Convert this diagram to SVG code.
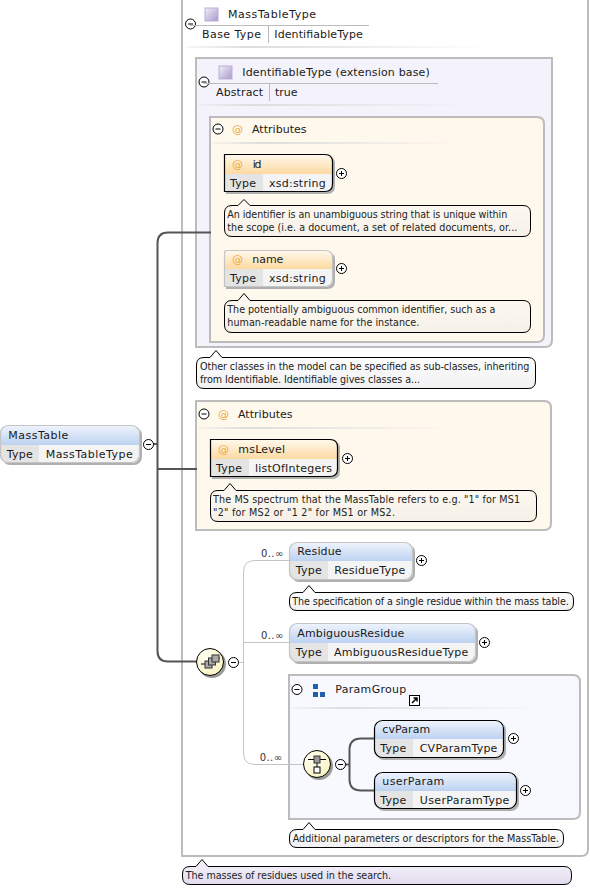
<svg xmlns="http://www.w3.org/2000/svg" width="590" height="889" viewBox="0 0 590 889">
<defs>
<linearGradient id="gBlue" x1="0" y1="0" x2="0" y2="1"><stop offset="0" stop-color="#f1f5fc"/><stop offset="1" stop-color="#bcd2f1"/></linearGradient>
<linearGradient id="gOrange" x1="0" y1="0" x2="0" y2="1"><stop offset="0" stop-color="#fffaf0"/><stop offset="1" stop-color="#fdd9a0"/></linearGradient>
<linearGradient id="gWhite" x1="0" y1="0" x2="0" y2="1"><stop offset="0" stop-color="#ffffff"/><stop offset="1" stop-color="#f1f1f3"/></linearGradient>
<linearGradient id="gCream" x1="0" y1="0" x2="0" y2="1"><stop offset="0" stop-color="#fffaf1"/><stop offset="1" stop-color="#f6f1e8"/></linearGradient>
<linearGradient id="gLav" x1="0" y1="0" x2="0" y2="1"><stop offset="0" stop-color="#f6f3fb"/><stop offset="1" stop-color="#e2dcef"/></linearGradient>
<linearGradient id="gIcon" x1="0" y1="0" x2="1" y2="1"><stop offset="0" stop-color="#f3effa"/><stop offset="1" stop-color="#a798cc"/></linearGradient>
<linearGradient id="gFade" x1="0" y1="0" x2="1" y2="0"><stop offset="0" stop-color="#dddddd" stop-opacity="0.2"/><stop offset="0.2" stop-color="#dddddd"/><stop offset="1" stop-color="#dddddd" stop-opacity="0"/></linearGradient>
<radialGradient id="gYellow" cx="0.35" cy="0.3" r="0.8"><stop offset="0" stop-color="#fffff0"/><stop offset="1" stop-color="#f8f2c0"/></radialGradient>
<g id="minus"><circle r="5" fill="#fff" stroke="#000" stroke-width="1"/><path d="M-2.5 0H2.5" stroke="#000" stroke-width="1"/></g>
<g id="plus"><circle r="5" fill="#fff" stroke="#000" stroke-width="1"/><path d="M-2.5 0H2.5M0 -2.5V2.5" stroke="#000" stroke-width="1"/></g>
</defs>
<style>
text{font-family:"DejaVu Sans",Verdana,sans-serif;font-size:11px;fill:#1a1a1a}
.c{font-size:9.6px;fill:#222}
.at{fill:#f0a840;font-size:11px}
.m{font-size:10px;fill:#333}
.cont{stroke:#bcbcbc;stroke-width:2}
.cell{fill:#e4e4e4}
.body{fill:#f4f4f4}
.sh{fill:#b0b0b0}
.bG{fill:none;stroke:#c4c4c4;stroke-width:1.2}
.bK{fill:none;stroke:#000;stroke-width:1.2}
.tip{stroke:#000;stroke-width:1}
.sep{stroke:#bbb;stroke-width:1}
.fade{fill:url(#gFade)}
.thin{fill:none;stroke:#c4c4c4;stroke-width:1}
.bus{fill:none;stroke:#555;stroke-width:2}
</style>

<g id="outer">
<path class="cont" fill="#fff" d="M182 -2H588V849Q588 856 581 856H182Z"/>
<use href="#minus" x="190.5" y="24"/>
<rect x="205" y="8" width="13" height="13" fill="url(#gIcon)" stroke="#b8aed6"/>
<text x="228" y="18" textLength="88">MassTableType</text>
<path d="M190 25.500H369" stroke="#bbb"/>
<text x="202" y="38" textLength="59">Base Type</text><path class="sep" d="M268.500 26V43"/>
<text x="274.300" y="38" textLength="88.500">IdentifiableType</text>
<rect class="fade" x="186" y="46" width="304" height="2"/>
</g>

<g id="identifiable">
<path class="cont" fill="#f4f2fa" d="M196 58H552V340Q552 347 545 347H196Z"/>
<use href="#minus" x="204" y="82"/>
<rect x="219" y="66" width="13" height="13" fill="url(#gIcon)" stroke="#b8aed6"/>
<text x="242.300" y="76" textLength="187.500">IdentifiableType (extension base)</text>
<path d="M204 83.500H438" stroke="#bbb"/>
<text x="216" y="96" textLength="47">Abstract</text><path class="sep" d="M269.500 84V101"/>
<text x="275" y="96" textLength="22.500">true</text>
<rect class="fade" x="198" y="104" width="268" height="2"/>
</g>

<g id="attributes1">
<path class="cont" fill="#fef8ed" d="M210 117H537Q544 117 544 124V335Q544 342 537 342H210Z"/>
<use href="#minus" x="218" y="129"/>
<text class="at" x="232" y="133">@</text>
<text x="252" y="133" textLength="54.500">Attributes</text>
<rect class="fade" x="212" y="142" width="248" height="2"/>
</g>

<g id="attributes2">
<path class="cont" fill="#fef8ed" d="M196 401H544Q551 401 551 408V523Q551 530 544 530H196Z"/>
<use href="#minus" x="204" y="414"/>
<text class="at" x="218" y="418">@</text>
<text x="238" y="418" textLength="54.500">Attributes</text>
<rect class="fade" x="198" y="427" width="250" height="2"/>
</g>

<g id="ParamGroup">
<path class="cont" fill="#f7f9fe" d="M289 675H573Q580 675 580 682V812Q580 819 573 819H289Z"/>
<use href="#minus" x="297" y="689.500"/>
<rect x="313" y="684" width="5" height="5" fill="#2060a8"/><rect x="313" y="692" width="5" height="5" fill="#2060a8"/><rect x="320" y="692" width="5" height="5" fill="#2060a8"/>
<text x="335.300" y="693" textLength="71">ParamGroup</text>
<rect x="409.500" y="695.500" width="10" height="10" fill="#fff" stroke="#000"/>
<path d="M412 703L417 698M413.500 698H417V701.500" stroke="#000" stroke-width="1.500" fill="none"/>
<rect class="fade" x="291" y="707" width="250" height="2"/>
<text class="m" x="259.700" y="761" textLength="22.300">0..∞</text>
</g>

<g id="connectors">
<path class="bus" d="M211 232.500H168Q157.500 232.500 157.500 243V651Q157.500 661.500 168 661.500H197"/>
<path class="bus" d="M153 444H157.500"/>
<path class="bus" d="M157.500 469H197"/>
<path class="thin" d="M238 662.500H243.500"/>
<path class="thin" d="M289 560.500H255Q243.500 560.500 243.500 572V753Q243.500 764.500 255 764.500H303"/>
<path class="thin" d="M243.500 642.500H289"/>
<path class="bus" d="M345 764.500H349.500"/>
<path class="bus" d="M374 738.500H361Q349.500 738.500 349.500 750V779Q349.500 790.500 361 790.500H374"/>
</g>

<g id="attr-id">
<path class="sh" d="M226 156H327Q335 156 335 164V186Q335 194 327 194H226Z"/>
<path class="body" d="M224 154H325Q333 154 333 162V184Q333 192 325 192H224Z"/>
<path fill="url(#gOrange)" d="M224 154H325Q333 154 333 162V174H224Z"/>
<rect class="cell" x="224" y="174" width="39" height="18"/>
<path class="bK" d="M224.500 154.500H325Q332.500 154.500 332.500 162V184Q332.500 191.500 325 191.500H224.500Z"/>
<text class="at" x="232" y="168">@</text><text x="252.700" y="168" textLength="8.700">id</text>
<text x="230" y="187" textLength="26">Type</text><text x="269" y="187" textLength="56.700">xsd:string</text>
<use href="#plus" x="341.500" y="173.500"/>
</g>
<g id="note-id">
<path class="tip" fill="url(#gCream)" d="M232 205.500H238L244 199.500L250 205.500H523Q530.500 205.500 530.500 213V229Q530.500 236.500 523 236.500H232Q224.500 236.500 224.500 229V213Q224.500 205.500 232 205.500Z"/>
<text class="c" x="227.300" y="218" textLength="280">An identifier is an unambiguous string that is unique within</text>
<text class="c" x="227.300" y="231" textLength="290">the scope (i.e. a document, a set of related documents, or...</text>
</g>

<g id="attr-name">
<path class="sh" d="M226 252H327Q335 252 335 260V281Q335 289 327 289H226Z"/>
<path class="body" d="M224 250H325Q333 250 333 258V279Q333 287 325 287H224Z"/>
<path fill="url(#gOrange)" d="M227 250H325Q333 250 333 258V269H224V253Q224 250 227 250Z"/>
<rect class="cell" x="224" y="269" width="39" height="18"/>
<path class="bG" d="M227 250.500H325Q332.500 250.500 332.500 258V279Q332.500 286.500 325 286.500H224.500V253Q224.500 250.500 227 250.500Z"/>
<text class="at" x="232" y="263">@</text><text x="252.300" y="263" textLength="31">name</text>
<text x="230" y="282" textLength="26">Type</text><text x="269" y="282" textLength="56.700">xsd:string</text>
<use href="#plus" x="341.500" y="268.500"/>
</g>
<g id="note-name">
<path class="tip" fill="url(#gCream)" d="M232 300.500H238L244 293.500L250 300.500H523Q530.500 300.500 530.500 308V325Q530.500 332.500 523 332.500H232Q224.500 332.500 224.500 325V308Q224.500 300.500 232 300.500Z"/>
<text class="c" x="227.300" y="313" textLength="268">The potentially ambiguous common identifier, such as a</text>
<text class="c" x="227.300" y="326" textLength="192">human-readable name for the instance.</text>
</g>

<g id="note-identifiable">
<path class="tip" fill="url(#gWhite)" d="M204 357.500H210L216 350.500L222 357.500H528Q535.500 357.500 535.500 365V381Q535.500 388.500 528 388.500H204Q196.500 388.500 196.500 381V365Q196.500 357.500 204 357.500Z"/>
<text class="c" x="200" y="370" textLength="329.300">Other classes in the model can be specified as sub-classes, inheriting</text>
<text class="c" x="200" y="383" textLength="220">from Identifiable. Identifiable gives classes a...</text>
</g>

<g id="attr-msLevel">
<path class="sh" d="M212 441H332Q340 441 340 449V471Q340 479 332 479H212Z"/>
<path class="body" d="M210 439H330Q338 439 338 447V469Q338 477 330 477H210Z"/>
<path fill="url(#gOrange)" d="M210 439H330Q338 439 338 447V459H210Z"/>
<rect class="cell" x="210" y="459" width="39" height="18"/>
<path class="bK" d="M210.500 439.500H330Q337.500 439.500 337.500 447V469Q337.500 476.500 330 476.500H210.500Z"/>
<text class="at" x="218" y="453">@</text><text x="238.300" y="453" textLength="46.700">msLevel</text>
<text x="216" y="472" textLength="26">Type</text><text x="255" y="472" textLength="77">listOfIntegers</text>
<use href="#plus" x="347.500" y="458.500"/>
</g>
<g id="note-msLevel">
<path class="tip" fill="url(#gCream)" d="M218 490.500H224L230 483.500L236 490.500H529Q536.500 490.500 536.500 498V514Q536.500 521.500 529 521.500H218Q210.500 521.500 210.500 514V498Q210.500 490.500 218 490.500Z"/>
<text class="c" x="213" y="503" textLength="307">The MS spectrum that the MassTable refers to e.g. "1" for MS1</text>
<text class="c" x="213" y="516" textLength="182">"2" for MS2 or "1 2" for MS1 or MS2.</text>
</g>

<g id="root">
<rect class="sh" x="2" y="427" width="140" height="38" rx="8"/>
<rect class="body" x="0" y="425" width="140" height="38" rx="8"/>
<path fill="url(#gBlue)" d="M8 425H132Q140 425 140 433V445H0V433Q0 425 8 425Z"/>
<path class="cell" d="M0 445H39V463H8Q0 463 0 455Z"/>
<rect class="bG" x="0.500" y="425.500" width="139" height="37" rx="8"/>
<text x="8.300" y="439" textLength="60">MassTable</text>
<text x="6.700" y="458" textLength="26">Type</text><text x="45.700" y="458" textLength="87">MassTableType</text>
<use href="#minus" x="148.500" y="444.500"/>
</g>

<g id="sequence">
<circle cx="212" cy="664" r="14" fill="#999"/>
<circle cx="210" cy="662" r="13.500" fill="url(#gYellow)" stroke="#000"/>
<path d="M201 664H205M214 658H220M214 660H215" stroke="#000"/>
<rect x="205" y="661" width="7" height="7" fill="#aaa" stroke="#333"/>
<rect x="208.500" y="658" width="7" height="7" fill="#aaa" stroke="#333"/>
<rect x="212" y="655" width="7" height="7" fill="#aaa" stroke="#333"/>
<use href="#minus" x="233.500" y="662.500"/>
</g>

<g id="Residue">
<text class="m" x="261" y="557" textLength="22.300">0..∞</text>
<rect class="sh" x="291" y="544" width="124" height="38" rx="8"/>
<rect class="body" x="289" y="542" width="124" height="38" rx="8"/>
<path fill="url(#gBlue)" d="M297 542H405Q413 542 413 550V561H289V550Q289 542 297 542Z"/>
<path class="cell" d="M289 561H328V580H297Q289 580 289 572Z"/>
<rect class="bG" x="289.500" y="542.500" width="123" height="37" rx="8"/>
<text x="297.300" y="555" textLength="44.300">Residue</text>
<text x="295.700" y="574" textLength="26">Type</text><text x="334.300" y="574" textLength="71">ResidueType</text>
<use href="#plus" x="421.500" y="560.500"/>
</g>
<g id="note-residue">
<path class="tip" fill="url(#gWhite)" d="M297 592.500H303L309 585.500L315 592.500H566Q573.500 592.500 573.500 600V603Q573.500 610.500 566 610.500H297Q289.500 610.500 289.500 603V600Q289.500 592.500 297 592.500Z"/>
<text class="c" x="292.300" y="605" textLength="276.500">The specification of a single residue within the mass table.</text>
</g>

<g id="AmbiguousResidue">
<text class="m" x="261" y="639" textLength="22.300">0..∞</text>
<rect class="sh" x="291" y="625" width="187" height="39" rx="8"/>
<rect class="body" x="289" y="623" width="187" height="39" rx="8"/>
<path fill="url(#gBlue)" d="M297 623H468Q476 623 476 631V643H289V631Q289 623 297 623Z"/>
<path class="cell" d="M289 643H328V662H297Q289 662 289 654Z"/>
<rect class="bG" x="289.500" y="623.500" width="186" height="38" rx="8"/>
<text x="297.300" y="637" textLength="107">AmbiguousResidue</text>
<text x="295.700" y="656" textLength="26">Type</text><text x="334" y="656" textLength="134.300">AmbiguousResidueType</text>
<use href="#plus" x="484.500" y="642.500"/>
</g>

<g id="choice">
<circle cx="319" cy="766" r="14" fill="#999"/>
<circle cx="317" cy="764" r="13.500" fill="url(#gYellow)" stroke="#000"/>
<path d="M308 759.500H326M317 763V767" stroke="#000"/>
<rect x="314" y="756" width="6" height="7" fill="#999" stroke="#333"/>
<rect x="314" y="767" width="6" height="6" fill="#fff" stroke="#000"/>
<use href="#minus" x="340.500" y="764.500"/>
</g>

<g id="cvParam">
<rect class="sh" x="376" y="722" width="130" height="38" rx="8"/>
<rect class="body" x="374" y="720" width="130" height="38" rx="8"/>
<path fill="url(#gBlue)" d="M382 720H496Q504 720 504 728V739H374V728Q374 720 382 720Z"/>
<path class="cell" d="M374 739H413V758H382Q374 758 374 750Z"/>
<rect class="bK" x="374.500" y="720.500" width="129" height="37" rx="8"/>
<text x="382.300" y="733" textLength="48">cvParam</text>
<text x="380.300" y="752" textLength="26">Type</text><text x="419.700" y="752" textLength="77.700">CVParamType</text>
<use href="#plus" x="513.500" y="738.500"/>
</g>
<g id="userParam">
<rect class="sh" x="376" y="774" width="143" height="37" rx="8"/>
<rect class="body" x="374" y="772" width="143" height="37" rx="8"/>
<path fill="url(#gBlue)" d="M382 772H509Q517 772 517 780V791H374V780Q374 772 382 772Z"/>
<path class="cell" d="M374 791H413V809H382Q374 809 374 801Z"/>
<rect class="bK" x="374.500" y="772.500" width="142" height="36" rx="8"/>
<text x="382.300" y="785" textLength="62">userParam</text>
<text x="380.300" y="804" textLength="26">Type</text><text x="419.700" y="804" textLength="89.700">UserParamType</text>
<use href="#plus" x="525.500" y="790.500"/>
</g>
<g id="note-param">
<path class="tip" fill="url(#gWhite)" d="M297 829.500H303L309 822.500L315 829.500H556Q563.500 829.500 563.500 837V840Q563.500 847.500 556 847.500H297Q289.500 847.500 289.500 840V837Q289.500 829.500 297 829.500Z"/>
<text class="c" x="292.700" y="842" textLength="266.300">Additional parameters or descriptors for the MassTable.</text>
</g>
<g id="note-masstable">
<path class="tip" fill="url(#gLav)" d="M190 866.500H196L202 859.500L208 866.500H564Q571.500 866.500 571.500 874V877Q571.500 884.500 564 884.500H190Q182.500 884.500 182.500 877V874Q182.500 866.500 190 866.500Z"/>
<text class="c" x="185.700" y="879" textLength="205.300">The masses of residues used in the search.</text>
</g>
</svg>
